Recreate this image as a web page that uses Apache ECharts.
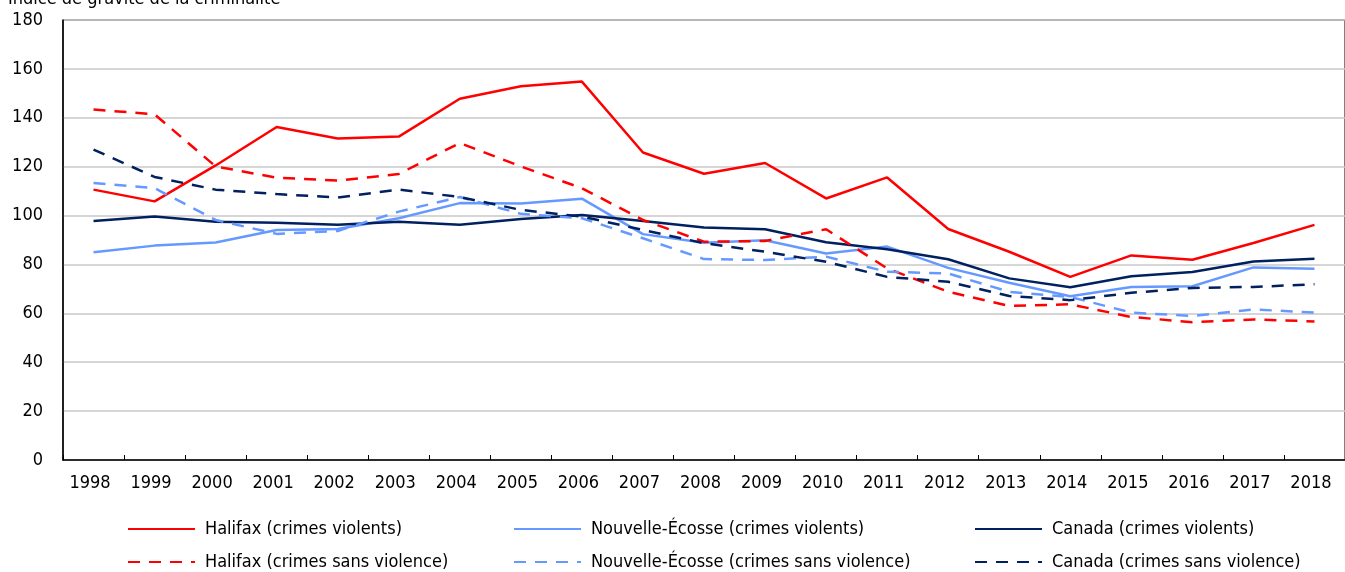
<!DOCTYPE html>
<html>
<head>
<meta charset="utf-8">
<script src="https://cdn.jsdelivr.net/npm/echarts@6/dist/echarts.min.js"></script>
<style>
  html, body { margin: 0; padding: 0; background: #fff; }
  #chart { width: 1345px; height: 572px; }
</style>
</head>
<body>
<div id="chart"></div>
<script>
// années
var years = ['1998','1999','2000','2001','2002','2003','2004','2005','2006','2007','2008',
             '2009','2010','2011','2012','2013','2014','2015','2016','2017','2018'];

// indices
var halifaxViolent = [110.6, 105.8, 120.5, 136.2, 131.5, 132.3, 147.8, 152.9, 154.8, 125.8, 117.1,
                      121.5, 107.0, 115.6, 94.5, 85.2, 74.9, 83.7, 81.9, 88.8, 96.2];
var halifaxNonViolent = [143.4, 141.4, 120.1, 115.5, 114.3, 117.0, 129.7, 120.1, 111.2, 98.2, 89.3,
                         89.6, 94.4, 78.4, 68.8, 63.0, 63.7, 58.5, 56.4, 57.5, 56.7];
var neViolent = [85.0, 87.7, 89.0, 94.1, 94.5, 98.9, 105.1, 104.9, 106.9, 92.4, 88.9,
                 89.9, 84.5, 87.3, 78.6, 72.5, 67.0, 70.8, 71.1, 78.8, 78.2];
var neNonViolent = [113.3, 111.2, 98.2, 92.5, 93.7, 101.6, 107.6, 100.7, 98.9, 90.7, 82.2,
                    81.8, 83.2, 77.0, 76.3, 68.8, 66.7, 60.3, 58.9, 61.6, 60.3];
var canadaViolent = [97.8, 99.6, 97.5, 97.1, 96.2, 97.5, 96.2, 98.6, 100.2, 97.8, 95.1,
                     94.4, 89.1, 86.2, 82.1, 74.3, 70.7, 75.2, 76.9, 81.2, 82.3];
var canadaNonViolent = [127.0, 115.8, 110.6, 108.8, 107.4, 110.6, 107.6, 102.3, 99.6, 94.1, 88.7,
                        85.2, 81.1, 74.9, 72.9, 67.1, 65.4, 68.4, 70.4, 70.8, 71.9];

var RED = '#ff0000', LIGHT = '#6699ff', NAVY = '#002060';
var FONT = "'DejaVu Sans Condensed', 'Liberation Sans', Arial, sans-serif";

function serie(name, data, color, dashed) {
  return {
    name: name,
    type: 'line',
    data: data,
    symbol: 'none',
    showSymbol: false,
    animation: false,
    lineStyle: { color: color, width: 2.5, type: dashed ? [12, 9] : 'solid' },
    itemStyle: { color: color }
  };
}

function leg(name, left, top) {
  return {
    data: [name],
    left: left,
    top: top,
    itemWidth: 67,
    itemHeight: 12,
    itemGap: 0,
    selectedMode: false,
    itemStyle: { opacity: 0 },
    textStyle: { fontFamily: FONT, fontSize: 18, color: '#000', padding: [0, 0, 0, 5] }
  };
}

var chart = echarts.init(document.getElementById('chart'));
chart.setOption({
  animation: false,
  grid: { left: 63, right: -2, top: 20, bottom: 112, show: true, borderColor: '#000', borderWidth: 1 },
  graphic: [{
    type: 'text',
    left: 8,
    top: -10,
    style: { text: 'Indice de gravité de la criminalité', font: '18px ' + FONT, fill: '#000' }
  }],
  legend: [
    leg('Halifax (crimes violents)', 122, 515),
    leg('Nouvelle-Écosse (crimes violents)', 508, 515),
    leg('Canada (crimes violents)', 969, 515),
    leg('Halifax (crimes sans violence)', 122, 548),
    leg('Nouvelle-Écosse (crimes sans violence)', 508, 548),
    leg('Canada (crimes sans violence)', 969, 548)
  ],
  xAxis: {
    type: 'category',
    data: years,
    boundaryGap: true,
    axisLine: { lineStyle: { color: '#000', width: 1.5 } },
    axisTick: { show: true, inside: true, length: 5, lineStyle: { color: '#000' } },
    axisLabel: { fontFamily: FONT, fontSize: 18, color: '#000', margin: 14, padding: [0, 7, 0, 0] },
    splitLine: { show: false }
  },
  yAxis: {
    type: 'value',
    min: 0,
    max: 180,
    interval: 20,
    axisLine: { show: true, lineStyle: { color: '#000', width: 1.5 } },
    axisTick: { show: false },
    axisLabel: { fontFamily: FONT, fontSize: 18, color: '#000', margin: 20 },
    splitLine: { lineStyle: { color: '#c8c8c8', width: 1.5 } }
  },
  series: [
    serie('Halifax (crimes violents)', halifaxViolent, RED, false),
    serie('Nouvelle-Écosse (crimes violents)', neViolent, LIGHT, false),
    serie('Canada (crimes violents)', canadaViolent, NAVY, false),
    serie('Halifax (crimes sans violence)', halifaxNonViolent, RED, true),
    serie('Nouvelle-Écosse (crimes sans violence)', neNonViolent, LIGHT, true),
    serie('Canada (crimes sans violence)', canadaNonViolent, NAVY, true)
  ]
});
</script>
</body>
</html>
